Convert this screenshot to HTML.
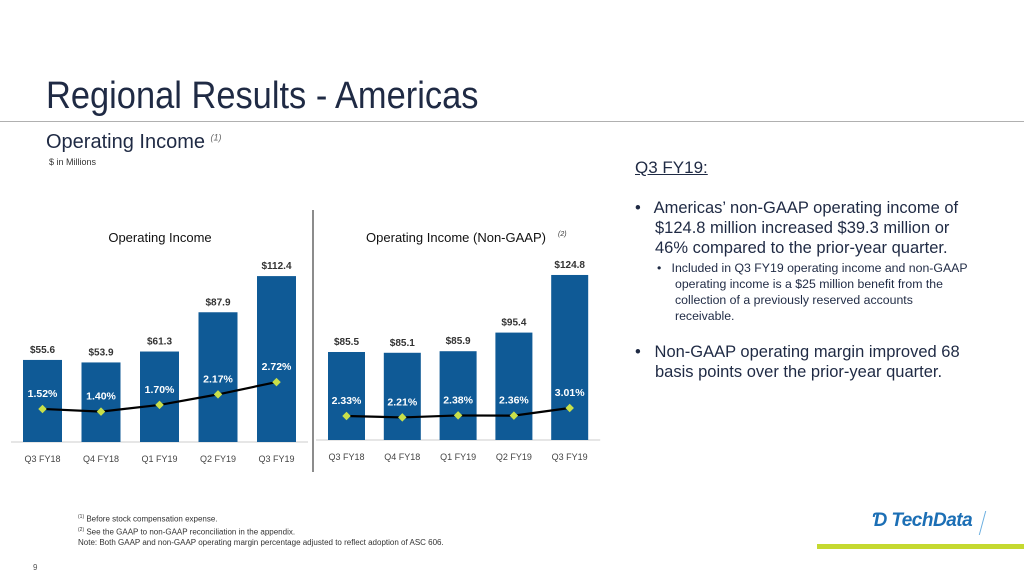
<!DOCTYPE html>
<html><head><meta charset="utf-8"><style>
body{margin:0;width:1024px;height:576px;background:#fff;position:relative;overflow:hidden;font-family:"Liberation Sans",sans-serif}
.a{position:absolute;white-space:nowrap}
svg text{font-family:"Liberation Sans",sans-serif}
</style></head><body>
<div class="a" style="left:46px;top:75px;font-size:38px;color:#1f2a44;transform:scaleX(0.906);transform-origin:0 0">Regional Results - Americas</div>
<div class="a" style="left:0;top:121px;width:1024px;height:1px;background:#b0b0b0"></div>
<div class="a" style="left:46px;top:131px;font-size:20px;color:#1f2a44">Operating Income <sup style="font-size:9px;font-style:italic;color:#666">(1)</sup></div>
<div class="a" style="left:49px;top:157px;font-size:9px;color:#333">$ in Millions</div>

<div class="a" style="left:635px;top:158px;font-size:17px;color:#1f2a44;text-decoration:underline">Q3 FY19:</div>
<div class="a" style="left:635px;top:198px;width:350px;white-space:normal;font-size:16.5px;color:#1f2a44;line-height:20px">
<div style="padding-left:20px;text-indent:-20px">•&nbsp;&nbsp; Americas’ non-GAAP operating income of $124.8 million increased $39.3 million or 46% compared to the prior-year quarter.</div>
<div style="font-size:12.3px;line-height:16px;padding-left:40px;text-indent:-18px;margin-top:2px;width:300px">•&nbsp;&nbsp; Included in Q3 FY19 operating income and non-GAAP&nbsp; operating income is a $25 million benefit from the collection of a previously reserved accounts receivable.</div>
<div style="padding-left:20px;text-indent:-20px;margin-top:18px">•&nbsp;&nbsp; Non-GAAP operating margin improved 68 basis points over the prior-year quarter.</div>
</div>

<svg id="ch" class="a" style="left:0;top:0" width="620" height="480"></svg>

<div class="a" style="left:78px;top:512px;font-size:8px;color:#333;line-height:10.5px">
<div><sup style="font-size:5px">(1)</sup> Before stock compensation expense.</div>
<div><sup style="font-size:5px">(2)</sup> See the GAAP to non-GAAP reconciliation in the appendix.</div>
<div>Note: Both GAAP and non-GAAP operating margin percentage adjusted to reflect adoption of ASC 606.</div>
</div>
<div class="a" style="left:872px;top:510px;font-size:19px;font-weight:bold;font-style:italic;color:#1c6fb5;letter-spacing:-0.5px">Ɗ TechData</div>
<div class="a" style="left:982px;top:511px;width:1px;height:24px;background:#6aaee0;transform:skewX(-15deg)"></div>
<div class="a" style="left:817px;top:544px;width:207px;height:5px;background:#c5d930"></div>
<div class="a" style="left:33px;top:563px;font-size:8px;color:#555">9</div>

<script>
const cats=["Q3 FY18","Q4 FY18","Q1 FY19","Q2 FY19","Q3 FY19"];
const gaapVals=[55.6,53.9,61.3,87.9,112.4];
const gaapPct=[1.52,1.40,1.70,2.17,2.72];
const ngVals=[85.5,85.1,85.9,95.4,124.8];
const ngPct=[2.33,2.21,2.38,2.36,3.01];
const svg=document.getElementById('ch');
const NS='http://www.w3.org/2000/svg';
function mk(t,a,txt){const e=document.createElementNS(NS,t);for(const k in a)e.setAttribute(k,a[k]);if(txt!=null)e.textContent=txt;svg.appendChild(e);return e;}
function chart(o){
  const {x0,step,bw,base,yv,yp,vals,pct,title,nm}=o;
  const t=mk('text',{x:o.tx,y:242,'font-size':13,fill:'#111','text-anchor':'middle'},title);
  
  
  if(o.sup){const s=mk('text',{x:o.tx+o.supdx,y:236,'font-size':7,'font-style':'italic',fill:'#333'},'(2)');}
  const ax=mk('line',{x1:x0-12,x2:x0+4*step+bw+12,y1:base,y2:base,stroke:'#ccc','stroke-width':1});
  
  
  const pts=[];
  vals.forEach((v,i)=>{
    const x=x0+i*step,y=yv(v);
    const r=mk('rect',{x:x,y:y,width:bw,height:base-y,fill:'#0f5a96'});
    
    
    const l=mk('text',{x:x+bw/2,y:y-7,'font-size':10,'font-weight':'bold',fill:'#333','text-anchor':'middle'},'$'+v.toFixed(1));
    
    
    const c=mk('text',{x:x+bw/2,y:base+20,'font-size':9,fill:'#444','text-anchor':'middle'},cats[i]);
    
    
    pts.push([x+bw/2,yp(pct[i])]);
  });
  const pl=mk('polyline',{points:pts.map(p=>p.join(',')).join(' '),fill:'none',stroke:'#000','stroke-width':2.2});
  
  
  pts.forEach((p,i)=>{
    const d=mk('rect',{x:p[0]-3,y:p[1]-3,width:6,height:6,fill:'#c8e04a',transform:`rotate(45 ${p[0]} ${p[1]})`});
    
    
    const tl=mk('text',{x:p[0],y:p[1]-12,'font-size':10.5,'font-weight':'bold',fill:'#fff','text-anchor':'middle'},pct[i].toFixed(2)+'%');
    
    
  });
}
chart({nm:'gaap',x0:23,step:58.5,bw:39,base:442,yv:v=>442-v*1.476,yp:p=>443-p*22.4,vals:gaapVals,pct:gaapPct,title:'Operating Income',tx:160});
chart({nm:'nongaap',x0:328,step:55.8,bw:37,base:440,yv:v=>440-(v-40.6)*1.96,yp:p=>443.5-p*11.8,vals:ngVals,pct:ngPct,title:'Operating Income (Non-GAAP)',tx:456,sup:true,supdx:102});
const dv=mk('line',{x1:313,x2:313,y1:210,y2:472,stroke:'#666','stroke-width':1.5});


</script>
</body></html>
